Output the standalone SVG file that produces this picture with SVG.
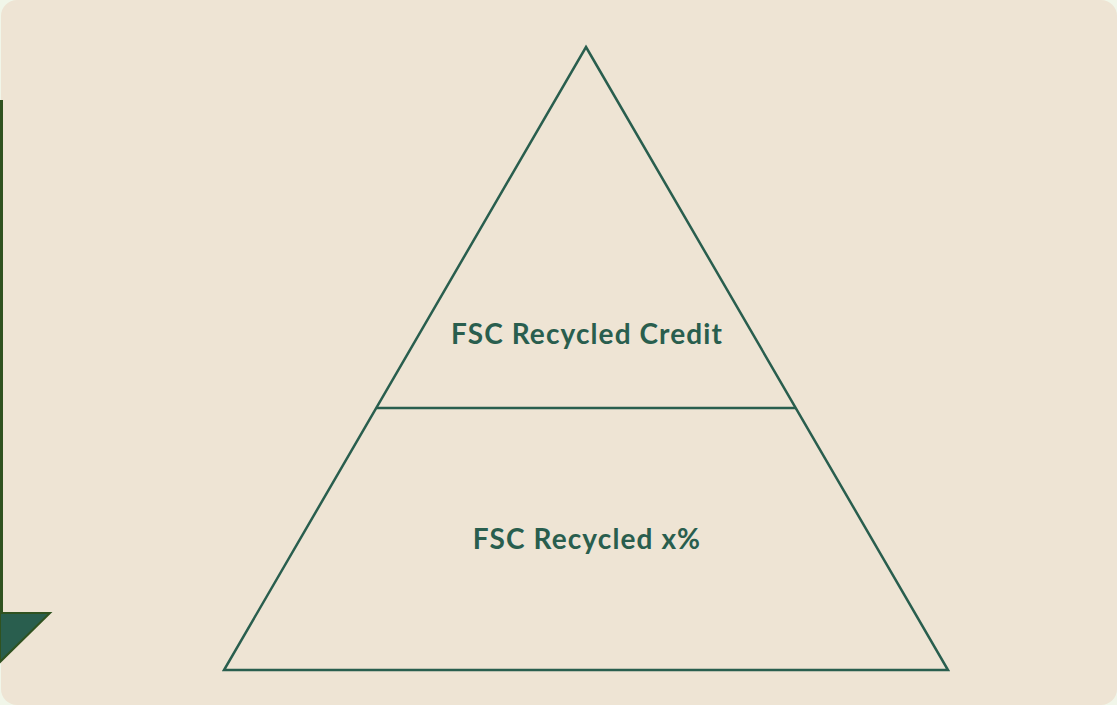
<svg xmlns="http://www.w3.org/2000/svg" width="1117" height="705" viewBox="0 0 1117 705">
<style>
.edge{fill:none;stroke:#295e4e;stroke-width:2.5;stroke-linejoin:miter}
.lbl{font-family:Lato,"Open Sans",sans-serif;font-weight:700;font-size:28px;letter-spacing:1.1px;fill:#295e4e;text-anchor:middle}
</style>
<rect x="0" y="0" width="1117" height="705" fill="#f1f6e9"/>
<rect x="1" y="0" width="1116" height="705" rx="16" ry="16" fill="#eee4d4"/>
<g id="side-accent">
<rect x="0" y="100" width="3" height="514" fill="#2f5220"/>
<polygon points="0,613 50,613 0,662" fill="#295e4e" stroke="#2f5220" stroke-width="2"/>
</g>
<g id="pyramid">
<polygon class="edge" points="586,47 948,670 224,670"/>
</g>
<g id="connectors">
<line class="edge" x1="377" y1="408" x2="796" y2="408"/>
</g>
<g id="top-tier">
<text class="lbl" x="587" y="344">FSC Recycled Credit</text>
</g>
<g id="bottom-tier">
<text class="lbl" x="587" y="549">FSC Recycled x%</text>
</g>
</svg>
